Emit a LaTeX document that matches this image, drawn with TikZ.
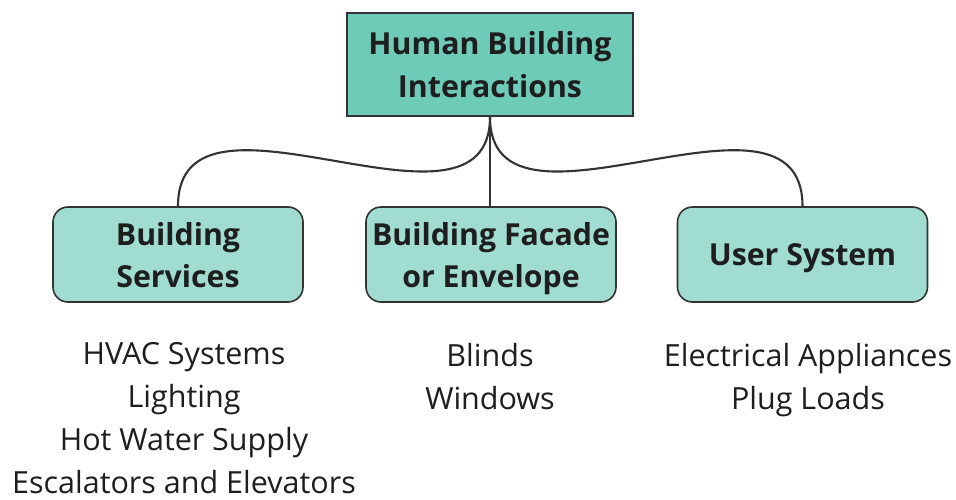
\documentclass[tikz,border=0pt]{standalone}
\usepackage{fontspec}
\setmainfont{Open Sans}
\definecolor{topfill}{RGB}{110,203,184}
\definecolor{subfill}{RGB}{160,221,208}
\definecolor{edge}{RGB}{51,51,51}
\definecolor{ink}{RGB}{30,30,30}
\begin{document}
\begin{tikzpicture}[x=1pt,y=-1pt,
  rootbox/.style={draw=edge, line width=1.6pt, fill=topfill, minimum width=286pt,
    minimum height=103pt, inner sep=0pt, text=ink, align=center,
    font=\bfseries\fontsize{30.3}{43}\selectfont},
  groupbox/.style={draw=edge, line width=1.6pt, fill=subfill, rounded corners=15pt,
    minimum width=250pt, minimum height=95pt, inner sep=0pt, text=ink, align=center,
    text depth=0pt, font=\bfseries\fontsize{30.3}{42}\selectfont},
  itemlist/.style={anchor=north, inner sep=0pt, text=ink, align=center,
    font=\fontsize{30.5}{43}\selectfont},
  link/.style={draw=edge, line width=2.1pt}]
\useasboundingbox (0,0) rectangle (956,500);

% hierarchy boxes
\node[rootbox] (root) at (490,64.5) {Human Building\\Interactions};
\node[groupbox] (services) at (178,254.5) {Building\\Services};
\node[groupbox] (facade) at (491,254.5) {Building Facade\\or Envelope};
\node[groupbox] (user) at (802.5,254.5) {User System};

% connectors
\draw[link] (root.south) -- (root.south |- facade.north);
\draw[link] (services.north) .. controls +(0,-144) and +(0,142) .. (root.south);
\draw[link] (user.north) .. controls +(0,-144) and +(0,142) .. (root.south);

% item lists under each group
\node[itemlist] (servicesitems) at (184,342.5) {HVAC Systems\\Lighting\\Hot Water Supply\\Escalators and Elevators};
\node[itemlist] (facadeitems) at (490,343) {Blinds\\Windows};
\node[itemlist] (useritems) at (808,343) {Electrical Appliances\\Plug Loads};
\end{tikzpicture}
\end{document}
